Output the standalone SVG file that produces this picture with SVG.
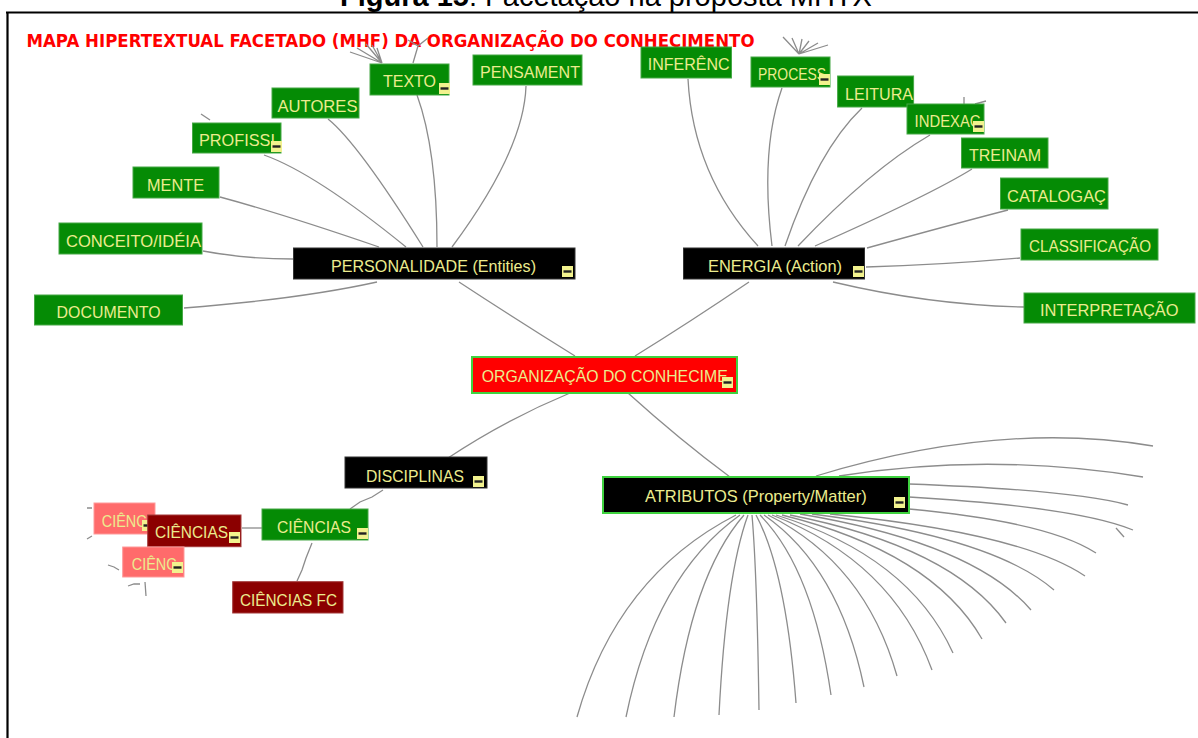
<svg xmlns="http://www.w3.org/2000/svg" xmlns:xlink="http://www.w3.org/1999/xlink" width="1198" height="738" viewBox="0 0 1198 738">
  <style>
    .cap { font-family: "Liberation Sans", Arial, sans-serif; font-size: 29px; fill: #000; }
    .title { font-family: "DejaVu Sans", "Liberation Sans", sans-serif; font-size: 18.5px; font-weight: bold; fill: #ff0000; }
    .lbl { font-family: "Liberation Sans", Arial, sans-serif; font-size: 17px; fill: #ecec8e; }
    .green { fill: #058b05; stroke: #46a846; stroke-width: 1; }
    .black { fill: #000; stroke: #333; stroke-width: 1; }
    .black-sel { fill: #000; stroke: #3fd23f; stroke-width: 2; }
    .red-sel { fill: #ff0000; stroke: #3fd23f; stroke-width: 2; }
    .dark { fill: #8b0000; stroke: #a33a3a; stroke-width: 1; }
    .salmon { fill: #ff6b6b; stroke: #ff9a9a; stroke-width: 1; }
    .edge { fill: none; stroke: #8c8c8c; stroke-width: 1.3; }
    .frame { stroke: #000; stroke-width: 2.2; fill: none; }
  </style>
  <defs>
    <!-- collapse toggle drawn on expanded nodes -->
    <symbol id="minus" viewBox="0 0 11 11">
      <rect x="0" y="0" width="11" height="11" fill="#f2f28e"/>
      <rect x="1.5" y="4.3" width="8" height="2.4" fill="#222"/>
    </symbol>
  </defs>

  <rect width="1198" height="738" fill="#fff"/>

  <!-- caption and frame -->
  <text class="cap" x="340" y="5.5"><tspan font-weight="bold">Figura 15</tspan>: Facetação na proposta MHTX</text>
  <path class="frame" d="M6,12.5 H1198 M7.5,12.5 V738"/>

  <text class="title" x="26.5" y="47" textLength="728" lengthAdjust="spacingAndGlyphs">MAPA HIPERTEXTUAL FACETADO (MHF) DA ORGANIZAÇÃO DO CONHECIMENTO</text>

  <!-- connectors -->
  <g id="connectors" class="edge">
    <!-- root -->
    <path d="M575,356 Q520,322 459,282"/>
    <path d="M635,356 Q690,322 749,282"/>
    <path d="M570,393 Q505,420 448,458"/>
    <path d="M628,393 Q680,440 730,477"/>
    <!-- personalidade -->
    <path d="M184,308 Q300,299 377,282"/>
    <path d="M203,251 Q245,259 293,259"/>
    <path d="M220,197 Q283,214 379,247"/>
    <path d="M264,155 Q315,173 406,247"/>
    <path d="M328,119 Q358,143 423,247"/>
    <path d="M417,95 Q437,150 437,247"/>
    <path d="M526,86 Q524,150 452,247"/>
    <!-- energia -->
    <path d="M688,79 Q693,175 758,246"/>
    <path d="M782,88 Q760,150 772,246"/>
    <path d="M862,108 Q818,150 785,246"/>
    <path d="M930,135 Q870,170 798,246"/>
    <path d="M972,169 Q930,195 815,246"/>
    <path d="M1008,210 Q950,225 867,248"/>
    <path d="M1020,258 Q940,265 866,267"/>
    <path d="M1024,307 Q930,305 833,282"/>
    <!-- disciplinas -->
    <path d="M383,490 L372,497 L360,502 L350,509"/>
    <path d="M242,528 L262,528"/>
    <path d="M312,543 L306,558 L302,570 L297,581"/>
    <!-- atributos fan -->
    <path d="M736,515 Q617,576 577,717"/>
    <path d="M740,515 Q655,576 626,717"/>
    <path d="M744,515 Q691,576 674,717"/>
    <path d="M748,515 Q726,575 719,715"/>
    <path d="M752,515 Q757,573 759,710"/>
    <path d="M756,515 Q786,571 796,703"/>
    <path d="M760,515 Q813,569 831,695"/>
    <path d="M764,515 Q839,567 864,687"/>
    <path d="M768,515 Q865,563 897,676"/>
    <path d="M772,515 Q892,561 932,670"/>
    <path d="M776,515 Q909,556 953,653"/>
    <path d="M782,515 Q932,552 982,639"/>
    <path d="M790,515 Q952,547 1006,623"/>
    <path d="M800,514 Q973,543 1031,610"/>
    <path d="M812,514 Q993,537 1054,590"/>
    <path d="M830,514 Q1021,533 1085,576"/>
    <path d="M909,509 Q1049,522 1096,553"/>
    <path d="M909,497 Q1077,507 1133,530"/>
    <path d="M909,484 Q1073,490 1128,505"/>
    <path d="M839,476 Q990,452 1143,477"/>
    <path d="M816,476 Q1000,420 1153,446"/>
    <path d="M1116,528 L1124,537"/>
    <!-- collapsed branch stubs -->
    <path d="M382,63 L350,52 M382,63 L357,48 M382,63 L366,44 M382,63 L372,45 M382,63 L377,48"/>
    <path d="M413,63 L418,46 L428,38 M418,46 L408,40"/>
    <path d="M201,114 L210,120"/>
    <path d="M799,54 L783,37 M799,54 L792,38 M799,54 L802,39 M799,54 L809,41 M799,54 L818,43 M799,54 L828,45"/>
    <path d="M964,97 L964,104 M975,104 L986,101"/>
    <path d="M87,508 L92,508 M87,539 L92,536"/>
    <path d="M108,565 L114,567 L119,570 M128,586 L134,584 L140,584 M145,582 L146,596"/>
  </g>

  <!-- personalidade branch -->
  <g id="n-pensamento"><rect class="green" x="473" y="55" width="109" height="30"/><text class="lbl" x="480" y="78" textLength="100" lengthAdjust="spacingAndGlyphs">PENSAMENT</text></g>
  <g id="n-texto"><rect class="green" x="370" y="64" width="79" height="31"/><text class="lbl" x="383" y="87" textLength="53" lengthAdjust="spacingAndGlyphs">TEXTO</text><use href="#minus" x="439" y="83" width="11" height="11"/></g>
  <g id="n-autores"><rect class="green" x="272" y="88" width="87" height="30"/><text class="lbl" x="277.5" y="111.5" textLength="80" lengthAdjust="spacingAndGlyphs">AUTORES</text></g>
  <g id="n-profiss"><rect class="green" x="192.5" y="123" width="88.5" height="30"/><text class="lbl" x="199" y="146" textLength="76" lengthAdjust="spacingAndGlyphs">PROFISSI</text><use href="#minus" x="271" y="141" width="11" height="11"/></g>
  <g id="n-mente"><rect class="green" x="133" y="167" width="86" height="31"/><text class="lbl" x="147" y="190.5" textLength="57" lengthAdjust="spacingAndGlyphs">MENTE</text></g>
  <g id="n-conceito"><rect class="green" x="59" y="223" width="143" height="31"/><text class="lbl" x="66" y="246.5" textLength="135" lengthAdjust="spacingAndGlyphs">CONCEITO/IDÉIA</text></g>
  <g id="n-documento"><rect class="green" x="34.5" y="295" width="148" height="30"/><text class="lbl" x="56.6" y="318" textLength="104" lengthAdjust="spacingAndGlyphs">DOCUMENTO</text></g>
  <g id="n-personalidade"><rect class="black" x="293.5" y="248" width="281.5" height="31"/><text class="lbl" x="331" y="272" textLength="205" lengthAdjust="spacingAndGlyphs">PERSONALIDADE (Entities)</text><use href="#minus" x="562" y="266" width="11" height="11"/></g>

  <!-- energia branch -->
  <g id="n-inferencia"><rect class="green" x="641" y="47" width="90.5" height="31"/><text class="lbl" x="647.7" y="70" textLength="82" lengthAdjust="spacingAndGlyphs">INFERÊNC</text></g>
  <g id="n-processo"><rect class="green" x="751" y="57" width="79" height="30"/><text class="lbl" x="758" y="80" textLength="68" lengthAdjust="spacingAndGlyphs">PROCESS</text><use href="#minus" x="819" y="74" width="11" height="11"/></g>
  <g id="n-leitura"><rect class="green" x="837.6" y="76" width="76" height="31"/><text class="lbl" x="845" y="99.5" textLength="68" lengthAdjust="spacingAndGlyphs">LEITURA</text></g>
  <g id="n-indexacao"><rect class="green" x="907" y="104" width="77" height="30"/><text class="lbl" x="914.6" y="127" textLength="66" lengthAdjust="spacingAndGlyphs">INDEXAÇ</text><use href="#minus" x="973" y="121" width="11" height="11"/></g>
  <g id="n-treinamento"><rect class="green" x="961.5" y="138" width="86.5" height="30"/><text class="lbl" x="969" y="161" textLength="72" lengthAdjust="spacingAndGlyphs">TREINAM</text></g>
  <g id="n-catalogacao"><rect class="green" x="1000.5" y="178" width="107.5" height="31"/><text class="lbl" x="1007" y="201.5" textLength="99" lengthAdjust="spacingAndGlyphs">CATALOGAÇ</text></g>
  <g id="n-classificacao"><rect class="green" x="1021" y="229" width="137" height="31"/><text class="lbl" x="1029" y="252" textLength="122" lengthAdjust="spacingAndGlyphs">CLASSIFICAÇÃO</text></g>
  <g id="n-energia"><rect class="black" x="683.5" y="248" width="181" height="31"/><text class="lbl" x="708" y="272" textLength="134" lengthAdjust="spacingAndGlyphs">ENERGIA (Action)</text><use href="#minus" x="853" y="266" width="11" height="11"/></g>
  <g id="n-interpretacao"><rect class="green" x="1024" y="293" width="171" height="30"/><text class="lbl" x="1040" y="316" textLength="138.6" lengthAdjust="spacingAndGlyphs">INTERPRETAÇÃO</text></g>

  <!-- root -->
  <g id="n-root"><rect class="red-sel" x="472" y="357" width="265" height="36"/><text class="lbl" x="481.7" y="382" textLength="246" lengthAdjust="spacingAndGlyphs">ORGANIZAÇÃO DO CONHECIME</text><use href="#minus" x="722" y="377" width="11" height="11"/></g>

  <!-- atributos -->
  <g id="n-atributos"><rect class="black-sel" x="603" y="477" width="306" height="36"/><text class="lbl" x="645" y="502" textLength="221.7" lengthAdjust="spacingAndGlyphs">ATRIBUTOS (Property/Matter)</text><use href="#minus" x="894" y="497" width="11" height="11"/></g>

  <!-- disciplinas branch -->
  <g id="n-disciplinas"><rect class="black" x="345" y="457" width="142" height="31"/><text class="lbl" x="366" y="481.5" textLength="98" lengthAdjust="spacingAndGlyphs">DISCIPLINAS</text><use href="#minus" x="473" y="476" width="11" height="11"/></g>
  <g id="n-ciencias"><rect class="green" x="262" y="509" width="106" height="31"/><text class="lbl" x="277" y="532.5" textLength="74" lengthAdjust="spacingAndGlyphs">CIÊNCIAS</text><use href="#minus" x="357" y="528" width="11" height="11"/></g>
  <g id="n-cienc-a"><rect class="salmon" x="94" y="503" width="61" height="31"/><text class="lbl" x="101.7" y="526.5" textLength="45" lengthAdjust="spacingAndGlyphs">CIÊNC</text><use href="#minus" x="142" y="520" width="11" height="11"/></g>
  <g id="n-ciencias-b"><rect class="dark" x="147.7" y="515" width="93.3" height="31.7"/><text class="lbl" x="155" y="538" textLength="73" lengthAdjust="spacingAndGlyphs">CIÊNCIAS</text><use href="#minus" x="229" y="532" width="11" height="11"/></g>
  <g id="n-cienc-c"><rect class="salmon" x="122.7" y="547" width="61.3" height="30"/><text class="lbl" x="131.7" y="570" textLength="45" lengthAdjust="spacingAndGlyphs">CIÊNC</text><use href="#minus" x="172" y="562" width="11" height="11"/></g>
  <g id="n-ciencias-fc"><rect class="dark" x="232.7" y="581.7" width="110.3" height="31.3"/><text class="lbl" x="240" y="605.5" textLength="97" lengthAdjust="spacingAndGlyphs">CIÊNCIAS FC</text></g>
</svg>
